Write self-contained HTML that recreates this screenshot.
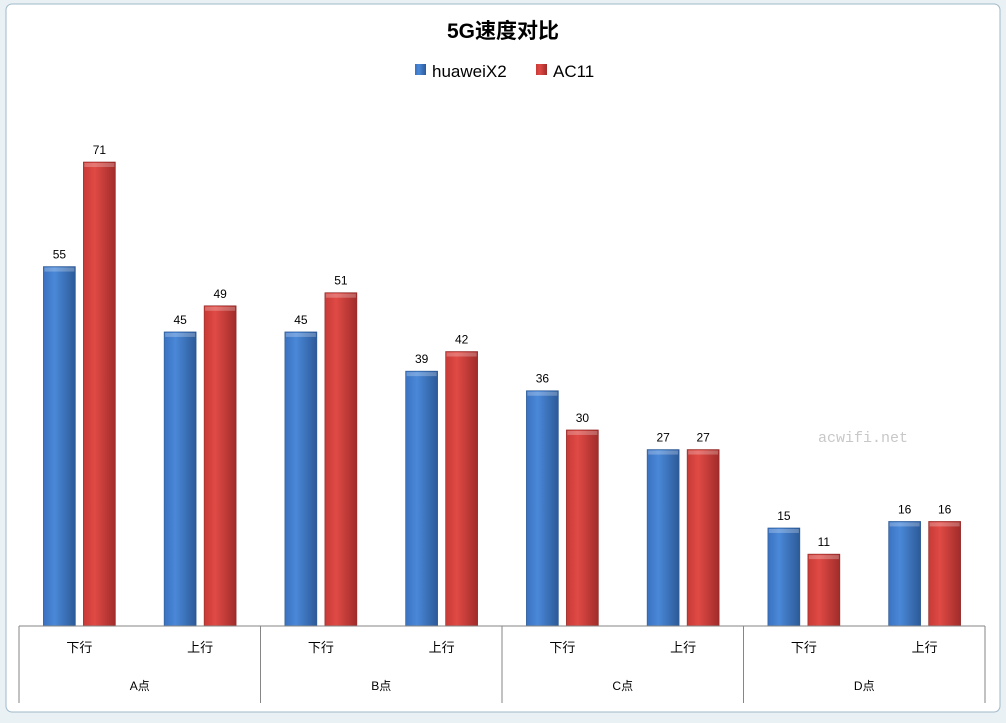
<!DOCTYPE html>
<html><head><meta charset="utf-8"><style>
body{margin:0;width:1006px;height:718px;background:#e9f1f5;overflow:hidden;font-family:"Liberation Sans","Noto Sans CJK SC",sans-serif}
</style></head><body>
<svg width="1006" height="718">
<defs>
<linearGradient id="gb" x1="0" x2="1"><stop offset="0" stop-color="#3a72c0"/><stop offset="0.35" stop-color="#4a88d8"/><stop offset="1" stop-color="#2c5a98"/></linearGradient>
<linearGradient id="gr" x1="0" x2="1"><stop offset="0" stop-color="#c83a36"/><stop offset="0.35" stop-color="#e04a45"/><stop offset="1" stop-color="#a02c2a"/></linearGradient>
</defs>
<rect x="6" y="4" width="994" height="708" rx="6" fill="#fff" stroke="#9fb9c9"/>
<text x="503" y="38" text-anchor="middle" font-size="21" font-weight="bold" fill="#000">5G速度对比</text>
<g>
<rect x="415" y="64" width="11" height="11" fill="url(#gb)"/>
<text x="432" y="77" font-size="17">huaweiX2</text>
<rect x="536" y="64" width="11" height="11" fill="url(#gr)"/>
<text x="553" y="77" font-size="17">AC11</text>
</g>
<g id="plot"></g>
<text x="863" y="442" text-anchor="middle" font-size="15" fill="#c8c8c8" font-family="Liberation Mono,monospace">acwifi.net</text>
</svg>
<script>
const categories=["下行","上行","下行","上行","下行","上行","下行","上行"];
const groups=["A点","B点","C点","D点"];
const huawei=[55,45,45,39,36,27,15,16];
const ac11=[71,49,51,42,30,27,11,16];
const x0=19,x1=985,y0=626,scale=6.535;
const step=(x1-x0)/categories.length;
const yOf=v=>y0-v*scale;
const g=document.getElementById('plot');
const NS="http://www.w3.org/2000/svg";
function mk(t,a){const e=document.createElementNS(NS,t);for(const k in a)e.setAttribute(k,a[k]);g.appendChild(e);return e;}
categories.forEach((c,i)=>{
 const cx=x0+step*(i+0.5);
 [[huawei,'url(#gb)',-36,'huawei'],[ac11,'url(#gr)',4,'ac11']].forEach(([arr,f,off,n])=>{
  const v=arr[i],y=yOf(v);
  const r=mk('rect',{x:cx+off,y:y,width:32,height:y0-y,fill:f,stroke:n=='huawei'?'#2a5690':'#8e2624','stroke-width':0.6});
  
  
  const cap=mk('rect',{x:cx+off+1,y:y+1,width:30,height:4,fill:'#fff',opacity:0.25});
  
  
  const t=mk('text',{x:cx+off+16,y:y-8,'text-anchor':'middle','font-size':12,fill:'#000'});
  t.textContent=v;
  
  
 });
 const l=mk('text',{x:cx,y:652,'text-anchor':'middle','font-size':13});
 l.textContent=c;
 
 
});
const ax=mk('line',{x1:x0,x2:x1,y1:y0,y2:y0,stroke:'#868686'});


groups.forEach((gname,j)=>{
 const gx=x0+step*2*j;
 const t=mk('text',{x:gx+step,y:690,'text-anchor':'middle','font-size':12});
 t.textContent=gname;
 
 
});
for(let j=0;j<=groups.length;j++){
 const sx=x0+step*2*j;
 const s=mk('line',{x1:sx,x2:sx,y1:y0,y2:703,stroke:'#868686'});
 
 
}
</script>
</body></html>
